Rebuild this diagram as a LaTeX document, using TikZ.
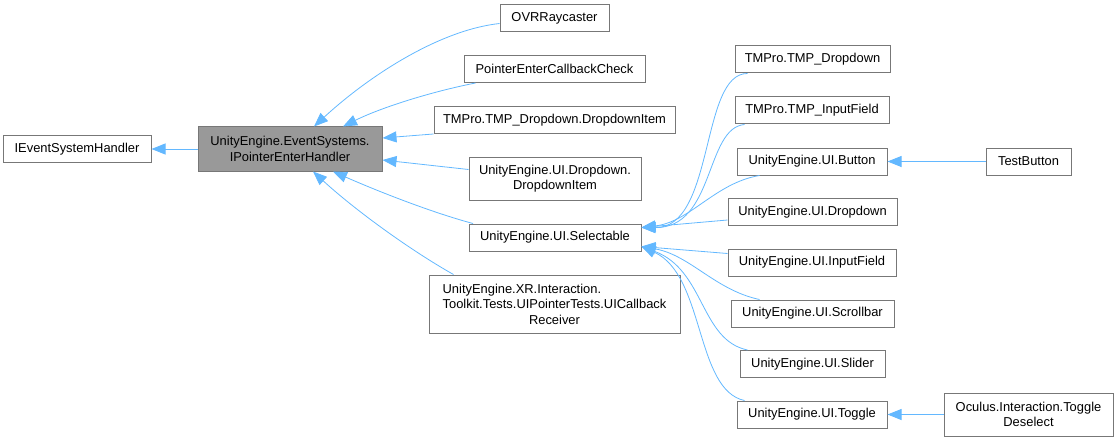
\documentclass[tikz,border=0pt]{standalone}
\usepackage{fontspec}
\setmainfont{Liberation Sans}
\usetikzlibrary{arrows.meta}
\definecolor{edgeblue}{HTML}{63B8FF}
\definecolor{boxgray}{HTML}{777777}
\definecolor{fillgray}{HTML}{999999}
\begin{document}
\begin{tikzpicture}[>={Triangle[length=14pt,width=11pt]}, x=1pt, y=-1pt, font=\fontsize{12.9}{15.5}\selectfont]
      \tikzset{box/.style={draw=boxgray, line width=1pt, fill=white, inner sep=0pt, align=center, minimum height=27pt},
        curbox/.style={box, fill=fillgray},
        inh/.style={->, draw=edgeblue, line width=0.8pt}}
      \useasboundingbox (0,0) rectangle (1118,441);
      % base and current class
      \node[box, minimum width=148pt] (ieh) at (77,149) {IEventSystemHandler};
      \node[curbox, minimum width=184pt, minimum height=44pt] (ipe) at (290,149) {UnityEngine.EventSystems.\\IPointerEnterHandler};
      % direct children
      \node[box, minimum width=109pt] (ovr) at (554.5,18.5) {OVRRaycaster};
      \node[box, minimum width=181pt] (pecc) at (554.5,69) {PointerEnterCallbackCheck};
      \node[box, minimum width=241pt] (tmpdi) at (554.5,120) {TMPro.TMP\_Dropdown.DropdownItem};
      \node[box, minimum width=172pt, minimum height=43pt] (uiddi) at (555,178.5) {UnityEngine.UI.Dropdown.\\DropdownItem};
      \node[box, minimum width=172pt] (sel) at (555,237.5) {UnityEngine.UI.Selectable};
      \node[box, minimum width=251pt, minimum height=58pt] (xr) at (554.5,304) {\rlap{UnityEngine.XR.Interaction.}\phantom{Toolkit.Tests.UIPointerTests.UICallback}\\Toolkit.Tests.UIPointerTests.UICallback\\Receiver};
      % selectable children
      \node[box, minimum width=155pt] (tmpdd) at (812.5,59.5) {TMPro.TMP\_Dropdown};
      \node[box, minimum width=154pt] (tmpif) at (812,110.5) {TMPro.TMP\_InputField};
      \node[box, minimum width=150pt] (btn) at (812,161.5) {UnityEngine.UI.Button};
      \node[box, minimum width=169pt] (dd) at (812.5,212) {UnityEngine.UI.Dropdown};
      \node[box, minimum width=168pt] (inf) at (812,262.5) {UnityEngine.UI.InputField};
      \node[box, minimum width=163pt] (scr) at (812.5,313.5) {UnityEngine.UI.Scrollbar};
      \node[box, minimum width=145pt] (sld) at (812.5,364) {UnityEngine.UI.Slider};
      \node[box, minimum width=150pt] (tog) at (812,414.5) {UnityEngine.UI.Toggle};
      \node[box, minimum width=85pt] (tb) at (1028.5,161.5) {TestButton};
      \node[box, minimum width=169pt, minimum height=43pt] (odes) at (1028.5,414.5) {Oculus.Interaction.Toggle\\Deselect};
      % inheritance arrows
      \draw[inh] (ipe.west) -- (ieh.east);
      \draw[inh] ([yshift=-5pt]ovr.west) .. controls (440,30) and (370,75) .. ([xshift=24pt]ipe.north);
      \draw[inh] ([xshift=-79pt]pecc.south) .. controls (430,92) and (380,108) .. ([xshift=53pt]ipe.north);
      \draw[inh] (tmpdi.south west) -- ([yshift=11pt]ipe.east);
      \draw[inh] ([yshift=9pt]uiddi.west) -- ([yshift=-11pt]ipe.east);
      \draw[inh] ([xshift=-82pt]sel.north) .. controls (430,212) and (375,190) .. ([xshift=43pt]ipe.south);
      \draw[inh] ([xshift=-101pt]xr.north) .. controls (410,250) and (355,210) .. ([xshift=23pt]ipe.south);
      \draw[inh] ([xshift=13pt]tmpdd.south west) .. controls (700,73) and (715,228) .. ([yshift=10pt]sel.east);
      \draw[inh] ([xshift=10pt]tmpif.south west) .. controls (705,128) and (715,228) .. ([yshift=10pt]sel.east);
      \draw[inh] ([xshift=23pt]btn.south west) .. controls (715,183) and (690,222) .. ([yshift=10pt]sel.east);
      \draw[inh] ([yshift=-8pt]dd.west) -- ([yshift=10pt]sel.east);
      \draw[inh] ([yshift=9pt]inf.west) -- ([yshift=-9pt]sel.east);
      \draw[inh] ([xshift=29pt]scr.north west) .. controls (715,290) and (690,255) .. ([yshift=-9pt]sel.east);
      \draw[inh] ([xshift=8pt]sld.north west) .. controls (700,340) and (705,270) .. ([yshift=-9pt]sel.east);
      \draw[inh] ([xshift=8pt]tog.north west) .. controls (695,390) and (705,275) .. ([yshift=-9pt]sel.east);
      \draw[inh] (tb.west) -- (btn.east);
      \draw[inh] (odes.west) -- (tog.east);
    \end{tikzpicture}
\end{document}
